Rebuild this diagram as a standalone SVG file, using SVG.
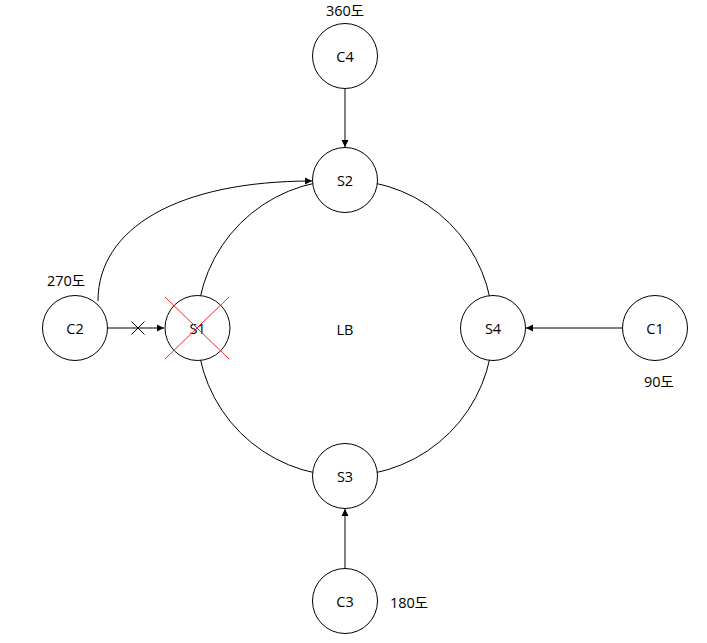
<svg xmlns="http://www.w3.org/2000/svg" width="707" height="643" viewBox="0 0 707 643">
<style>
.node{fill:#fff;stroke:#000;stroke-width:1}
.lbl{font-family:"Open Sans","Noto Sans","Noto Sans CJK KR",sans-serif;font-size:14.5px;fill:#000;text-anchor:middle;dominant-baseline:central}
.edge{fill:none;stroke:#000;stroke-width:1}
.red{stroke:#ff2020;stroke-width:1}
</style>
<defs>
<marker id="arr" markerWidth="8" markerHeight="8" refX="7" refY="4" orient="auto" markerUnits="userSpaceOnUse">
<path d="M0,0.5 L7,4 L0,7.5 Z" fill="#000"/>
</marker>
</defs>
<g id="connectors">
<circle class="edge" cx="345" cy="328" r="148"/>
<line class="edge" x1="345" y1="88.5" x2="345" y2="147" marker-end="url(#arr)"/>
<line class="edge" x1="345" y1="568.5" x2="345" y2="509" marker-end="url(#arr)"/>
<line class="edge" x1="622.5" y1="328" x2="526" y2="328" marker-end="url(#arr)"/>
<line class="edge" x1="107.5" y1="328" x2="164" y2="328" marker-end="url(#arr)"/>
<path class="edge" d="M98,301 C98,228 178,181 312,181" marker-end="url(#arr)"/>
<path class="edge" d="M131.5,321.5 L144.5,334.5 M144.5,321.5 L131.5,334.5"/>
</g>
<g id="C4"><circle class="node" cx="345" cy="56" r="32.5"/><text class="lbl" x="345" y="56">C4</text></g>
<g id="S2"><circle class="node" cx="345" cy="180" r="32.5"/><text class="lbl" x="345" y="180">S2</text></g>
<g id="S1"><circle class="node" cx="197.5" cy="328" r="32.5"/><text class="lbl" x="197.5" y="328">S1</text></g>
<g id="S4"><circle class="node" cx="493" cy="328" r="32.5"/><text class="lbl" x="493" y="328">S4</text></g>
<g id="S3"><circle class="node" cx="345" cy="476" r="32.5"/><text class="lbl" x="345" y="476">S3</text></g>
<g id="C2"><circle class="node" cx="75" cy="328" r="32.5"/><text class="lbl" x="75" y="328">C2</text></g>
<g id="C1"><circle class="node" cx="655" cy="328" r="32.5"/><text class="lbl" x="655" y="328">C1</text></g>
<g id="C3"><circle class="node" cx="345" cy="601" r="32.5"/><text class="lbl" x="345" y="601">C3</text></g>
<g id="S1-cross"><path class="red" d="M165,297 L229,359 M229,297 L165,359"/></g>
<g id="LB"><text class="lbl" x="345" y="329">LB</text></g>
<g id="labels">
<text class="lbl" x="345" y="10">360도</text>
<text class="lbl" x="66" y="280">270도</text>
<text class="lbl" x="659" y="381">90도</text>
<text class="lbl" x="409" y="602">180도</text>
</g>
</svg>
